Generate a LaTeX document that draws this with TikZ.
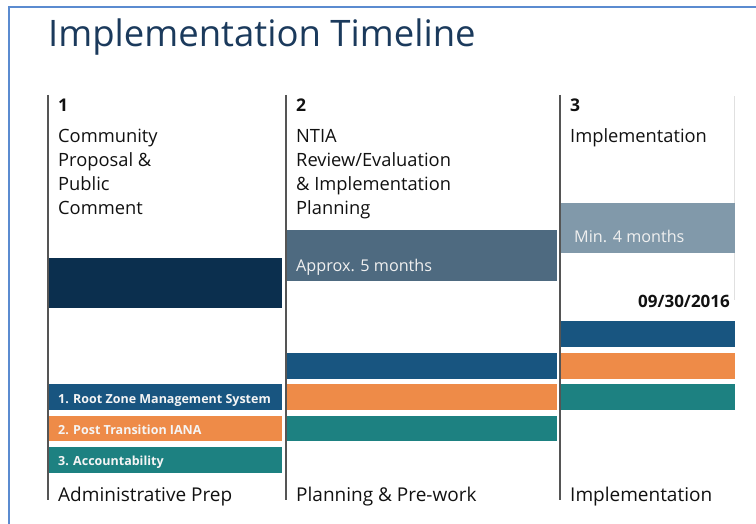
\documentclass[tikz,border=0pt]{standalone}
\usepackage{fontspec}
\setmainfont{Open Sans}
\definecolor{frameblue}{HTML}{5B8BD0}
\definecolor{titlec}{HTML}{1B3A5C}
\definecolor{textc}{HTML}{111111}
\definecolor{navybox}{HTML}{0B2F4E}
\definecolor{slatebox}{HTML}{4E6A80}
\definecolor{greybox}{HTML}{8199AA}
\definecolor{barblue}{HTML}{185580}
\definecolor{barorange}{HTML}{EE8B48}
\definecolor{barteal}{HTML}{1D8181}
\definecolor{colline}{HTML}{555555}
\begin{document}
\begin{tikzpicture}[x=1pt,y=-1pt,
  txt/.style={anchor=base west, inner sep=0pt, text=textc, font=\fontsize{18.3}{20}\selectfont},
  num/.style={anchor=base west, inner sep=0pt, text=textc, font=\bfseries\fontsize{17.5}{20}\selectfont},
  boxtxt/.style={anchor=base west, inner sep=0pt, text=white!88!gray, font=\fontsize{16.2}{20}\selectfont},
  bartxt/.style={anchor=base west, inner sep=0pt, text=white!92!gray, font=\bfseries\fontsize{12.5}{14}\selectfont},
  foot/.style={anchor=base west, inner sep=0pt, text=textc, font=\fontsize{19}{22}\selectfont},
  vline/.style={draw=colline, line width=1.1pt}]
\useasboundingbox (0,0) rectangle (756,524);
% frame
\draw[frameblue, line width=2pt] (9,524) -- (9,7) -- (756,7);
% title
\node[anchor=base west, inner sep=0pt, text=titlec, font=\fontsize{36.5}{40}\selectfont] (title) at (48,47) {Implementation Timeline};
% column lines
\draw[vline] (48,95) -- (48,500);
\draw[vline] (286,95) -- (286,500);
\draw[vline] (560,95) -- (560,500);
\draw[black!12, line width=0.8pt] (734,96) -- (734,300);
% column 1
\node[num] (n1) at (58,112) {1};
\node[txt] (c1a) at (58,143) {Community};
\node[txt] (c1b) at (58,167) {Proposal \&};
\node[txt] (c1c) at (58,191) {Public};
\node[txt] (c1d) at (58,215) {Comment};
\fill[navybox] (48.5,258) rectangle (282,308);
% column 2
\node[num] (n2) at (296,112) {2};
\node[txt] (c2a) at (296,143) {NTIA};
\node[txt] (c2b) at (296,167) {Review/Evaluation};
\node[txt] (c2c) at (296,191) {\& Implementation};
\node[txt] (c2d) at (296,215) {Planning};
\fill[slatebox] (287,230) rectangle (557,281);
\node[boxtxt] (d2) at (296,272) {Approx. 5 months};
% column 3
\node[num] (n3) at (570,112) {3};
\node[txt] (c3a) at (570,143) {Implementation};
\fill[greybox] (561,203) rectangle (735,253);
\node[boxtxt] (d3) at (574,243) {Min. 4 months};
\node[anchor=base east, inner sep=0pt, text=textc, font=\bfseries\fontsize{17}{20}\selectfont] (date) at (730,307) {09/30/2016};
% bars column 3
\fill[barblue] (561,321) rectangle (735,347);
\fill[barorange] (561,353) rectangle (735,379);
\fill[barteal] (561,384) rectangle (735,410);
% bars column 2
\fill[barblue] (287,353) rectangle (557,379);
\fill[barorange] (287,384) rectangle (557,410);
\fill[barteal] (287,416) rectangle (557,441);
% bars column 1
\fill[barblue] (48.5,384) rectangle (282,410);
\fill[barorange] (48.5,416) rectangle (282,441);
\fill[barteal] (48.5,447) rectangle (282,473);
\node[bartxt] (b1) at (58,403) {1. Root Zone Management System};
\node[bartxt] (b2) at (58,434) {2. Post Transition IANA};
\node[bartxt] (b3) at (58,465) {3. Accountability};
% footers
\node[foot] (f1) at (58,501) {Administrative Prep};
\node[foot] (f2) at (296,501) {Planning \& Pre-work};
\node[foot] (f3) at (570,501) {Implementation};
\end{tikzpicture}
\end{document}
